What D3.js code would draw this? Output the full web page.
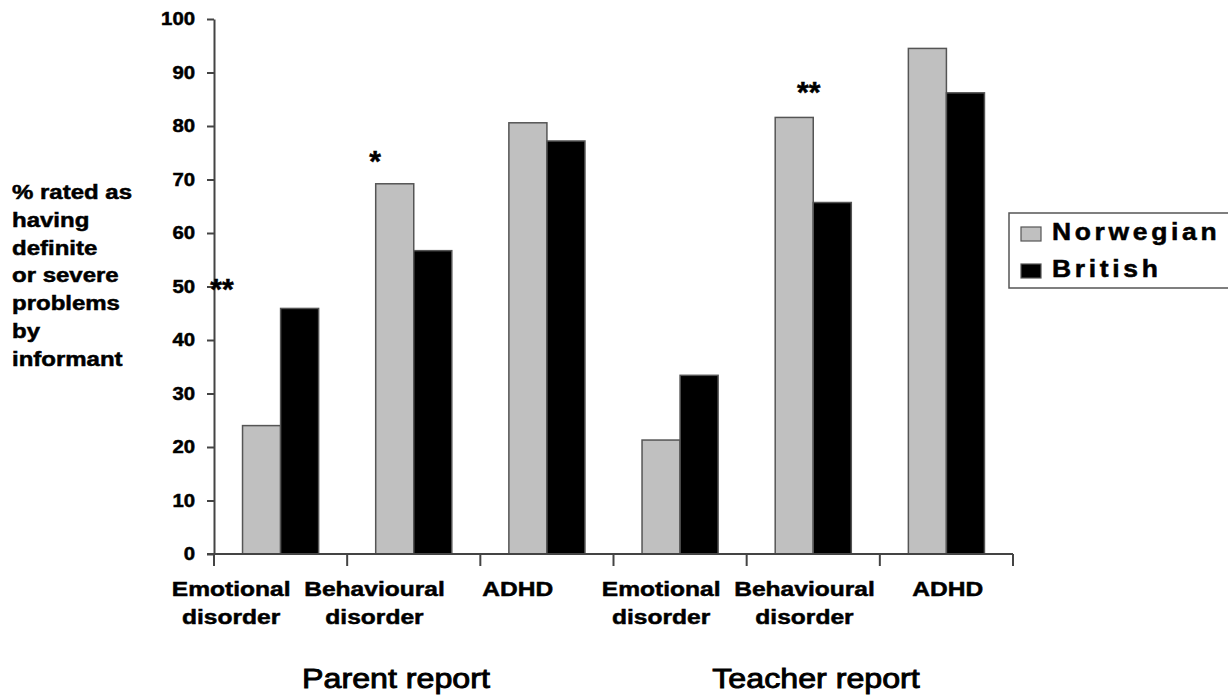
<!DOCTYPE html>
<html>
<head>
<meta charset="utf-8">
<script src="https://cdn.jsdelivr.net/npm/d3@7/dist/d3.min.js"></script>
<style>
  html, body { margin: 0; padding: 0; background: #fff; }
  svg { display: block; font-family: "Liberation Sans", Arial, sans-serif; }
  .heavy { stroke: #000; stroke-width: 0.5px; paint-order: stroke; }
</style>
</head>
<body>
<svg id="chart" width="1228" height="696"></svg>
<script>
// ---- data ----
const categories = ["Emotional disorder", "Behavioural disorder", "ADHD",
                    "Emotional disorder", "Behavioural disorder", "ADHD"];
const informants = ["Parent report", "Teacher report"];
const seriesNames = ["Norwegian", "British"];
const norwegian = [24.0, 69.2, 80.6, 21.3, 81.6, 94.5];
const british   = [45.9, 56.7, 77.2, 33.4, 65.7, 86.2];
const yTicks = [0, 10, 20, 30, 40, 50, 60, 70, 80, 90, 100];
const yTitle = ["% rated as", "having", "definite", "or severe", "problems", "by", "informant"];
// significance markers: category index, symbol, height in % units
const sigIndex = [0, 1, 4];
const sigText  = ["**", "*", "**"];
const sigLevel = [50.5, 74.4, 87.3];

// ---- layout ----
const svg = d3.select("#chart");
const colors = { Norwegian: "#c0c0c0", British: "#000000" };
const axisColor = "#444";

const y = d3.scaleLinear().domain([0, 100]).range([554, 19]);
const x0 = d3.scaleBand().domain(d3.range(categories.length)).range([214, 1013]).paddingInner(0).paddingOuter(0);
const x1 = d3.scaleBand().domain(seriesNames).range([0, x0.bandwidth()]).paddingInner(0).paddingOuter(0.75);
// category labels sit on a slightly wider spread than the bars
const xLabel = d3.scaleBand().domain(d3.range(categories.length)).range([159.5, 1019.5]);

const values = { Norwegian: norwegian, British: british };

// bars
const groups = svg.append("g").selectAll("g")
  .data(d3.range(categories.length))
  .join("g")
  .attr("transform", i => `translate(${x0(i)},0)`);

groups.selectAll("rect")
  .data(i => seriesNames.map(s => ({ s, v: values[s][i] })))
  .join("rect")
  .attr("x", d => x1(d.s))
  .attr("y", d => y(d.v))
  .attr("width", x1.bandwidth())
  .attr("height", d => y(0) - y(d.v))
  .attr("fill", d => colors[d.s])
  .attr("stroke", "#555")
  .attr("stroke-width", 1.5);

// y axis
const yAxis = svg.append("g")
  .attr("transform", `translate(214,0)`)
  .call(d3.axisLeft(y).tickValues(yTicks).tickSize(7).tickSizeOuter(0));
yAxis.select(".domain").attr("stroke", axisColor).attr("stroke-width", 2);
yAxis.selectAll(".tick line").attr("stroke", axisColor).attr("stroke-width", 2);
yAxis.selectAll(".tick text")
  .attr("x", 0)
  .attr("transform", "translate(-19,0) scale(1.13,1)")
  .attr("fill", "#000")
  .attr("class", "heavy")
  .style("font-size", "18px")
  .style("font-weight", "bold")
  .style("font-family", "'Liberation Sans', Arial, sans-serif");

// x axis baseline and group separators
svg.append("line")
  .attr("x1", 207).attr("x2", 1013)
  .attr("y1", y(0)).attr("y2", y(0))
  .attr("stroke", axisColor).attr("stroke-width", 2);
svg.append("g").selectAll("line")
  .data(d3.range(categories.length + 1))
  .join("line")
  .attr("x1", i => 214 + i * x0.step())
  .attr("x2", i => 214 + i * x0.step())
  .attr("y1", y(0)).attr("y2", y(0) + 12)
  .attr("stroke", axisColor).attr("stroke-width", 2);

// category labels (two lines)
const catLabels = svg.append("g").selectAll("text")
  .data(categories)
  .join("text")
  .attr("class", "heavy")
  .attr("transform", (d, i) => `translate(${xLabel(i) + xLabel.bandwidth() / 2},596) scale(1.17,1)`)
  .attr("text-anchor", "middle")
  .style("font-size", "21px")
  .style("font-weight", "bold");
catLabels.selectAll("tspan")
  .data(d => d.split(" "))
  .join("tspan")
  .attr("x", 0)
  .attr("dy", (d, j) => j === 0 ? 0 : 28)
  .text(d => d);

// informant labels
const informantX = [396, 816];
svg.append("g").selectAll("text")
  .data(informants)
  .join("text")
  .attr("class", "heavy")
  .attr("transform", (d, i) => `translate(${informantX[i]},688) scale(1.15,1)`)
  .attr("text-anchor", "middle")
  .style("font-size", "28px")
  .style("stroke-width", "0.9px")
  .text(d => d);

// y axis title
svg.append("text")
  .attr("class", "heavy")
  .attr("transform", "translate(12,199) scale(1.2,1)")
  .style("font-size", "20px")
  .style("font-weight", "bold")
  .selectAll("tspan")
  .data(yTitle)
  .join("tspan")
  .attr("x", 0)
  .attr("dy", (d, i) => i === 0 ? 0 : 27.8)
  .text(d => d);

// significance markers
const sigShift = [8, 28, 62];
svg.append("g").selectAll("text")
  .data(sigIndex)
  .join("text")
  .attr("class", "heavy")
  .attr("x", (d, k) => x0(d) + sigShift[k])
  .attr("y", (d, k) => y(sigLevel[k]) + 15)
  .attr("text-anchor", "middle")
  .style("font-size", "30px")
  .style("font-weight", "bold")
  .text((d, k) => sigText[k]);

// legend
const legend = svg.append("g").attr("transform", "translate(1009,213)");
legend.append("rect")
  .attr("x", 0).attr("y", 0)
  .attr("width", 230).attr("height", 75)
  .attr("fill", "#fff")
  .attr("stroke", "#555").attr("stroke-width", 1.5);
const items = legend.selectAll("g.item")
  .data(seriesNames)
  .join("g")
  .attr("class", "item")
  .attr("transform", (d, i) => `translate(12,${14 + i * 37})`);
items.append("rect")
  .attr("width", 20).attr("height", 14)
  .attr("fill", d => colors[d])
  .attr("stroke", "#555").attr("stroke-width", 1.2);
items.append("text")
  .attr("class", "heavy")
  .attr("transform", "translate(31,13) scale(1.15,1)")
  .style("font-size", "23px")
  .style("font-weight", "bold")
  .style("letter-spacing", "3.2px")
  .text(d => d);
</script>
</body>
</html>
